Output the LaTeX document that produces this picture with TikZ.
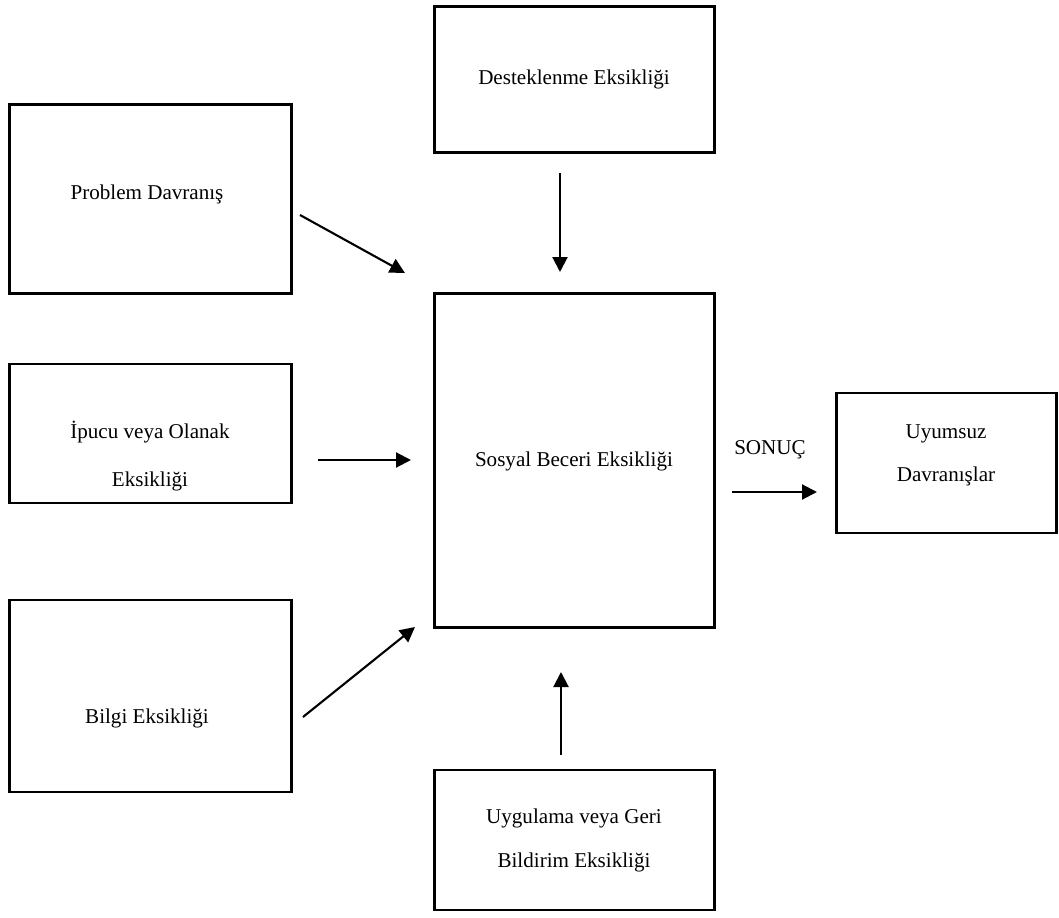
\documentclass[tikz,border=0pt]{standalone}
\usepackage{fontspec}
\setmainfont{Liberation Serif}
\usetikzlibrary{arrows.meta}

\tikzset{
	box/.style={draw, shape=rectangle, line width=1.5pt, inner sep=0},
	lbl/.style={align=center, inner sep=0, font=\fontsize{12}{25}\selectfont},
	arr/.style={-{Triangle[length=0.3cm, width=0.3cm]}, line width=1.2pt}
}

\begin{document}
\begin{tikzpicture}
			\useasboundingbox (0,0) rectangle (21.18,-18.36);
			% boxes
			\foreach \n/\x/\y/\w/\h in {prob/3.01/-3.98/5.64/3.78, dest/11.49/-1.59/5.60/2.92, ipucu/3.01/-8.67/5.64/2.78, sosyal/11.49/-9.21/5.60/6.68, uyum/18.93/-9.26/4.40/2.80, bilgi/3.01/-13.92/5.64/3.84, uyg/11.49/-16.80/5.60/2.80}
				{
					\node[box, minimum width=\w cm, minimum height=\h cm] (\n) at (\x,\y){};
				}
			% texts
			\node[lbl] (tProb) at (2.94,-3.88){Problem Davranış};
			\node[lbl] (tDest) at (11.48,-1.58){Desteklenme Eksikliği};
			\node[lbl, font=\fontsize{12}{27}\selectfont] (tIpucu) at (3.00,-9.12){İpucu veya Olanak\\Eksikliği};
			\node[lbl] (tSosyal) at (11.48,-9.22){Sosyal Beceri Eksikliği};
			\node[lbl] (tSonuc) at (15.40,-9.00){SONUÇ};
			\node[lbl, font=\fontsize{12}{24.4}\selectfont] (tUyum) at (18.92,-9.11){Uyumsuz\\Davranışlar};
			\node[lbl] (tBilgi) at (2.94,-14.36){Bilgi Eksikliği};
			\node[lbl] (tUyg) at (11.48,-16.80){Uygulama veya Geri\\Bildirim Eksikliği};
			% arrow ends
			\coordinate (probA) at (6.00,-4.30);
			\coordinate (probB) at (8.10,-5.46);
			\coordinate (destA) at (11.20,-3.46);
			\coordinate (destB) at (11.20,-5.44);
			\coordinate (ipucuA) at (6.36,-9.20);
			\coordinate (ipucuB) at (8.22,-9.20);
			\coordinate (bilgiA) at (6.06,-14.34);
			\coordinate (bilgiB) at (8.30,-12.54);
			\coordinate (uygA) at (11.22,-15.10);
			\coordinate (uygB) at (11.22,-13.44);
			\coordinate (sonucA) at (14.64,-9.84);
			\coordinate (sonucB) at (16.34,-9.84);
			\foreach \s in {prob,dest,ipucu,bilgi,uyg,sonuc}
				{
					\draw[arr] (\s A) -- (\s B);
				}
\end{tikzpicture}
\end{document}
